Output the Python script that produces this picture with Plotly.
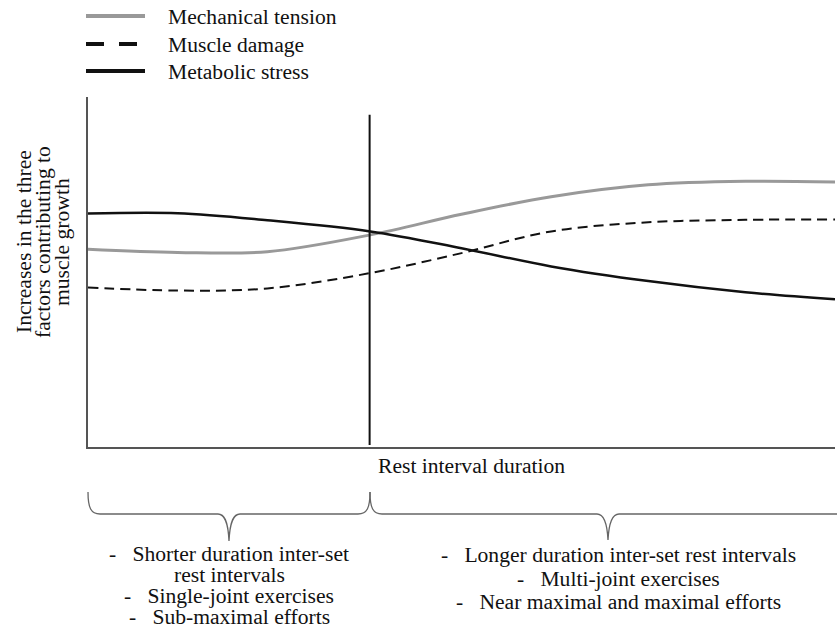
import plotly.graph_objects as go

# ---------------- data ----------------
X = [0, 12, 24, 37.8, 50, 62, 75, 88, 100]
MECHANICAL_TENSION = [56.5, 55.6, 55.8, 60.6, 66.5, 71.5, 74.9, 75.9, 75.7]
MUSCLE_DAMAGE = [45.6, 44.7, 45.3, 49.7, 55.4, 61.6, 64.2, 64.9, 65.0]
METABOLIC_STRESS = [66.7, 66.8, 64.8, 61.6, 56.8, 51.6, 47.4, 44.2, 42.2]
SERIES_NAMES = ["Mechanical tension", "Muscle damage", "Metabolic stress"]
DIVIDER_X = [37.7, 37.7]
DIVIDER_Y = [0.6, 94.9]
X_TITLE = "Rest interval duration"
Y_TITLE_LINES = ["Increases in the three", "factors contributing to", "muscle growth"]
LEFT_LINES = ["-   Shorter duration inter-set", "rest intervals", "-   Single-joint exercises", "-   Sub-maximal efforts"]
RIGHT_LINES = ["-   Longer duration inter-set rest intervals", "-   Multi-joint exercises", "-   Near maximal and maximal efforts"]

W, H = 837, 628
L, R, T, B = 88, 2, 97, 181
PW, PH = W - L - R, H - T - B
FONT = "Liberation Serif, Times New Roman, serif"
FS = 21.6


def px(xp):
    return (xp - L) / PW


def py(yp):
    return (T + PH - yp) / PH


def nb(s):
    return s.replace(" ", "\u00a0")


fig = go.Figure()
styles = [
    dict(color="#999999", width=3),
    dict(color="#111111", width=2, dash="10px,6px"),
    dict(color="#111111", width=2.5),
]
for name, ys, st in zip(SERIES_NAMES, [MECHANICAL_TENSION, MUSCLE_DAMAGE, METABOLIC_STRESS], styles):
    fig.add_trace(go.Scatter(x=X, y=ys, mode="lines", name=name, line=dict(shape="spline", smoothing=1, **st),
                             showlegend=False, hoverinfo="skip"))

fig.add_trace(go.Scatter(x=DIVIDER_X, y=DIVIDER_Y, mode="lines", line=dict(color="#111111", width=2),
                         showlegend=False, hoverinfo="skip"))

shapes = []
annotations = []

# legend (manual)
leg_rows = [16, 44, 71]
leg_styles = [
    dict(color="#999999", width=4),
    dict(color="#111111", width=4, dash="18px,15px"),
    dict(color="#111111", width=4),
]
for name, yrow, st in zip(SERIES_NAMES, leg_rows, leg_styles):
    shapes.append(dict(type="line", xref="paper", yref="paper", x0=px(86), x1=px(145), y0=py(yrow), y1=py(yrow),
                       line=st))
    annotations.append(dict(text=name, xref="paper", yref="paper", x=px(166), y=py(yrow + 1), xanchor="left",
                            yanchor="middle", showarrow=False, font=dict(family=FONT, size=FS, color="#111")))

# y title
for i, line in enumerate(Y_TITLE_LINES):
    annotations.append(dict(text=nb(line), xref="paper", yref="paper", x=px(24 + 19 * i), y=py(242), textangle=-90,
                            xanchor="center", yanchor="middle", showarrow=False,
                            font=dict(family=FONT, size=FS, color="#111")))

# x title
annotations.append(dict(text=X_TITLE, xref="paper", yref="paper", x=px(472), y=py(466), xanchor="center",
                        yanchor="middle", showarrow=False, font=dict(family=FONT, size=FS, color="#111")))


# braces
def brace(x0, xm, x1, ytop, yh, ytip, right_up=True):
    p = f"M {px(x0)},{py(ytop)} C {px(x0)},{py(yh-6)} {px(x0+3)},{py(yh)} {px(x0+12)},{py(yh)} "
    p += f"L {px(xm-11)},{py(yh)} C {px(xm-5)},{py(yh)} {px(xm-1)},{py(yh+6)} {px(xm)},{py(ytip)} "
    p += f"C {px(xm+1)},{py(yh+6)} {px(xm+5)},{py(yh)} {px(xm+11)},{py(yh)} "
    if right_up:
        p += f"L {px(x1-12)},{py(yh)} C {px(x1-3)},{py(yh)} {px(x1)},{py(yh-6)} {px(x1)},{py(ytop)}"
    else:
        p += f"L {px(x1)},{py(yh)}"
    return p


shapes.append(dict(type="path", xref="paper", yref="paper", path=brace(88, 229, 370, 492, 514, 541),
                   line=dict(color="#666666", width=1.3)))
shapes.append(dict(type="path", xref="paper", yref="paper", path=brace(370, 608, 840, 492, 514, 540, right_up=False),
                   line=dict(color="#666666", width=1.3)))

for i, line in enumerate(LEFT_LINES):
    annotations.append(dict(text=nb(line), xref="paper", yref="paper", x=px(229), y=py(554 + 21 * i),
                            xanchor="center", yanchor="middle", showarrow=False,
                            font=dict(family=FONT, size=FS, color="#111")))
for i, line in enumerate(RIGHT_LINES):
    annotations.append(dict(text=nb(line), xref="paper", yref="paper", x=px(618), y=py(555 + 23.5 * i),
                            xanchor="center", yanchor="middle", showarrow=False,
                            font=dict(family=FONT, size=FS, color="#111")))

fig.update_layout(
    width=W, height=H, margin=dict(l=L, r=R, t=T, b=B),
    paper_bgcolor="white", plot_bgcolor="white",
    font=dict(family=FONT, size=FS, color="#111"),
    shapes=shapes, annotations=annotations,
    xaxis=dict(range=[0, 100], showgrid=False, zeroline=False, showticklabels=False, ticks="",
               showline=True, linecolor="#555555", linewidth=1.5),
    yaxis=dict(range=[0, 100], showgrid=False, zeroline=False, showticklabels=False, ticks="",
               showline=True, linecolor="#555555", linewidth=1.5),
)

fig.write_html("out.html", config={"displayModeBar": False},
               post_script="document.body.style.margin='0';document.body.style.overflow='hidden';")
